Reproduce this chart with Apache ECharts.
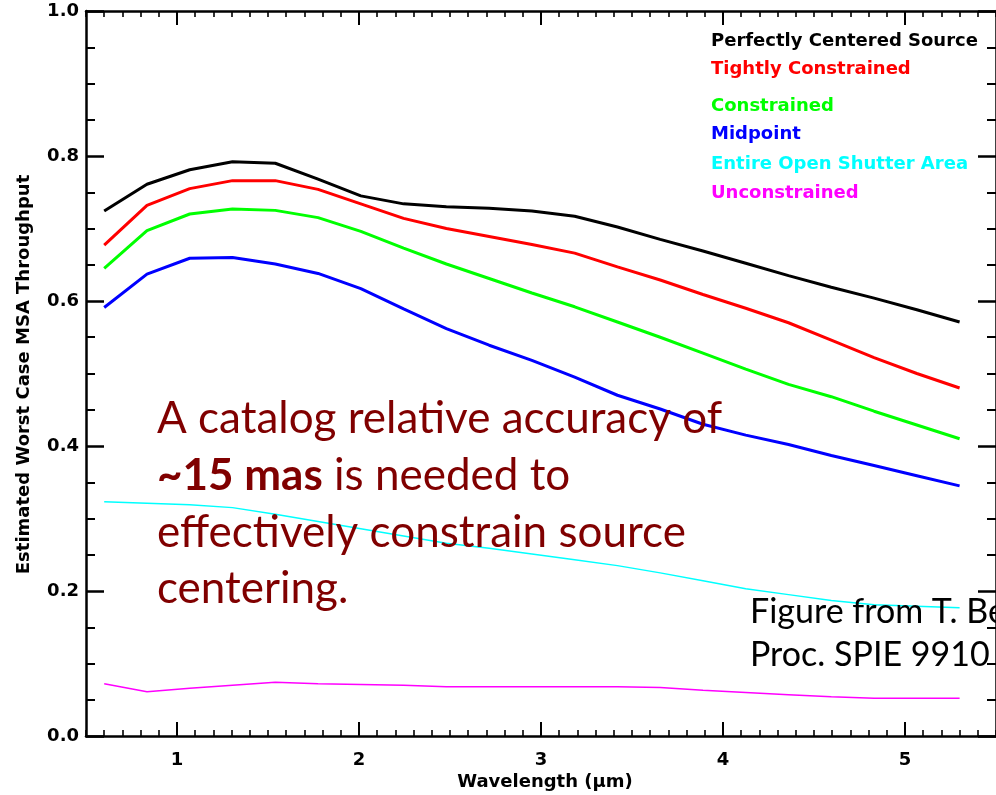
<!DOCTYPE html>
<html><head><meta charset="utf-8">
<script src="https://cdn.jsdelivr.net/npm/echarts@6/dist/echarts.min.js"></script>
<style>html,body{margin:0;padding:0;background:#fff;overflow:hidden}#c{width:996px;height:795px}</style>
</head><body><div id="c"></div>
<script>
// ---- data ----
const wavelengths = [0.6, 0.835, 1.07, 1.305, 1.54, 1.775, 2.01, 2.245, 2.48, 2.715, 2.95, 3.185, 3.42, 3.655, 3.89, 4.125, 4.36, 4.595, 4.83, 5.065, 5.3];
const perfectlyCentered = [0.724, 0.761, 0.781, 0.792, 0.790, 0.768, 0.745, 0.734, 0.730, 0.728, 0.724, 0.717, 0.702, 0.685, 0.669, 0.652, 0.635, 0.619, 0.604, 0.588, 0.571];
const tightlyConstrained = [0.677, 0.732, 0.755, 0.766, 0.766, 0.754, 0.734, 0.714, 0.700, 0.689, 0.678, 0.666, 0.647, 0.629, 0.609, 0.590, 0.570, 0.546, 0.522, 0.500, 0.480];
const constrained = [0.645, 0.697, 0.720, 0.727, 0.725, 0.715, 0.696, 0.673, 0.651, 0.631, 0.611, 0.592, 0.571, 0.550, 0.528, 0.506, 0.485, 0.468, 0.448, 0.429, 0.410];
const midpoint = [0.591, 0.637, 0.659, 0.660, 0.651, 0.638, 0.617, 0.589, 0.562, 0.539, 0.518, 0.495, 0.470, 0.451, 0.430, 0.415, 0.402, 0.387, 0.373, 0.359, 0.345];
const entireOpenShutter = [0.323, 0.321, 0.319, 0.315, 0.306, 0.296, 0.286, 0.276, 0.266, 0.259, 0.251, 0.243, 0.235, 0.225, 0.214, 0.203, 0.195, 0.187, 0.181, 0.179, 0.177];
const unconstrained = [0.072, 0.061, 0.066, 0.070, 0.074, 0.072, 0.071, 0.070, 0.068, 0.068, 0.068, 0.068, 0.068, 0.067, 0.063, 0.060, 0.057, 0.054, 0.052, 0.052, 0.052];
const seriesNames = ['Perfectly Centered Source', 'Tightly Constrained', 'Constrained', 'Midpoint', 'Entire Open Shutter Area', 'Unconstrained'];
const seriesColors = ['#000000', '#ff0000', '#00ff00', '#0000ff', '#00ffff', '#ff00ff'];
const xTickValues = [1, 2, 3, 4, 5];
const xAxisTitle = 'Wavelength (\u03bcm)';
const yAxisTitle = 'Estimated Worst Case MSA Throughput';
const noteLines = ['A catalog relative accuracy of', '{b|~15 mas} is needed to', 'effectively constrain source', 'centering.'];
const creditLines = ['Figure from T. Be', 'Proc. SPIE 9910 J'];

// ---- chart ----
const allSeries = [perfectlyCentered, tightlyConstrained, constrained, midpoint, entireOpenShutter, unconstrained];
const lineWidths = [3, 3, 3, 3, 1.5, 1.5];
const AX = '#000';
const F = 'DejaVu Sans';
function xAx(pos, major) {
  const a = {type: 'value', min: 0.5, max: 5.5, position: pos, splitLine: {show: false},
    axisLine: {show: !major, onZero: false, lineStyle: {color: AX, width: 2.5}}};
  if (major) {
    a.axisTick = {inside: true, length: 14, customValues: xTickValues, lineStyle: {color: AX, width: 2}};
    a.axisLabel = pos === 'bottom' ? {customValues: xTickValues, formatter: v => String(Math.round(v)), margin: 15, fontSize: 18, fontWeight: 'bold', fontFamily: F, color: '#000'} : {show: false};
  } else {
    a.interval = 0.1;
    a.axisTick = {inside: true, length: 6, lineStyle: {color: AX, width: 1.6}};
    a.axisLabel = {show: false};
  }
  return a;
}
function yAx(pos) {
  return {type: 'value', min: 0, max: 1, interval: 0.2, position: pos, splitLine: {show: false},
    axisLine: {show: true, onZero: false, lineStyle: {color: AX, width: 2.5}},
    axisTick: {inside: true, length: 18, lineStyle: {color: AX, width: 2.5}},
    minorTick: {show: true, splitNumber: 4, length: 9, lineStyle: {color: AX, width: 2}},
    minorSplitLine: {show: false},
    axisLabel: pos === 'left' ? {formatter: v => v.toFixed(1), margin: 7, fontSize: 18, fontWeight: 'bold', fontFamily: F, color: '#000'} : {show: false}};
}
const legendY = [41, 69, 106, 134.5, 164, 193];
const graphics = [];
seriesNames.forEach((n, i) => graphics.push({type: 'text', x: 711, y: legendY[i], z: 10,
  style: {text: n, fill: seriesColors[i], font: 'bold 18px "DejaVu Sans"', verticalAlign: 'middle', align: 'left'}}));
graphics.push({type: 'text', x: 545, y: 782, z: 10, style: {text: xAxisTitle, fill: '#000', font: 'bold 18px "DejaVu Sans"', align: 'center', verticalAlign: 'middle'}});
graphics.push({type: 'text', x: 24, y: 374.5, rotation: Math.PI / 2, z: 10, style: {text: yAxisTitle, fill: '#000', font: 'bold 18px "DejaVu Sans"', align: 'center', verticalAlign: 'middle'}});
const noteY = [419, 475.5, 532.5, 589];
noteLines.forEach((t, i) => graphics.push({type: 'text', x: 157, y: noteY[i], z: 10,
  style: {text: t, fill: '#800000', font: '44px Lato', verticalAlign: 'middle', align: 'left',
    rich: {b: {fontWeight: 'bold', fontSize: 44, fontFamily: 'Lato', fill: '#800000'}}}}));
const creditY = [612, 655];
creditLines.forEach((t, i) => graphics.push({type: 'text', x: 750, y: creditY[i], z: 10,
  style: {text: t, fill: '#000', font: '34px Lato', verticalAlign: 'middle', align: 'left'}}));

const chart = echarts.init(document.getElementById('c'), null, {renderer: 'canvas'});
chart.setOption({
  animation: false,
  backgroundColor: '#fff',
  grid: {left: 86, top: 11, width: 920, height: 725, show: false},
  xAxis: [xAx('bottom', false), xAx('bottom', true), xAx('top', false), xAx('top', true)],
  yAxis: [yAx('left'), yAx('right')],
  series: allSeries.map((arr, i) => ({
    type: 'line', name: seriesNames[i], xAxisIndex: 0, yAxisIndex: 0,
    data: wavelengths.map((w, k) => [w, arr[k]]),
    showSymbol: false, symbol: 'none', silent: true,
    lineStyle: {color: seriesColors[i], width: lineWidths[i]}
  })),
  graphic: graphics
});
</script></body></html>
